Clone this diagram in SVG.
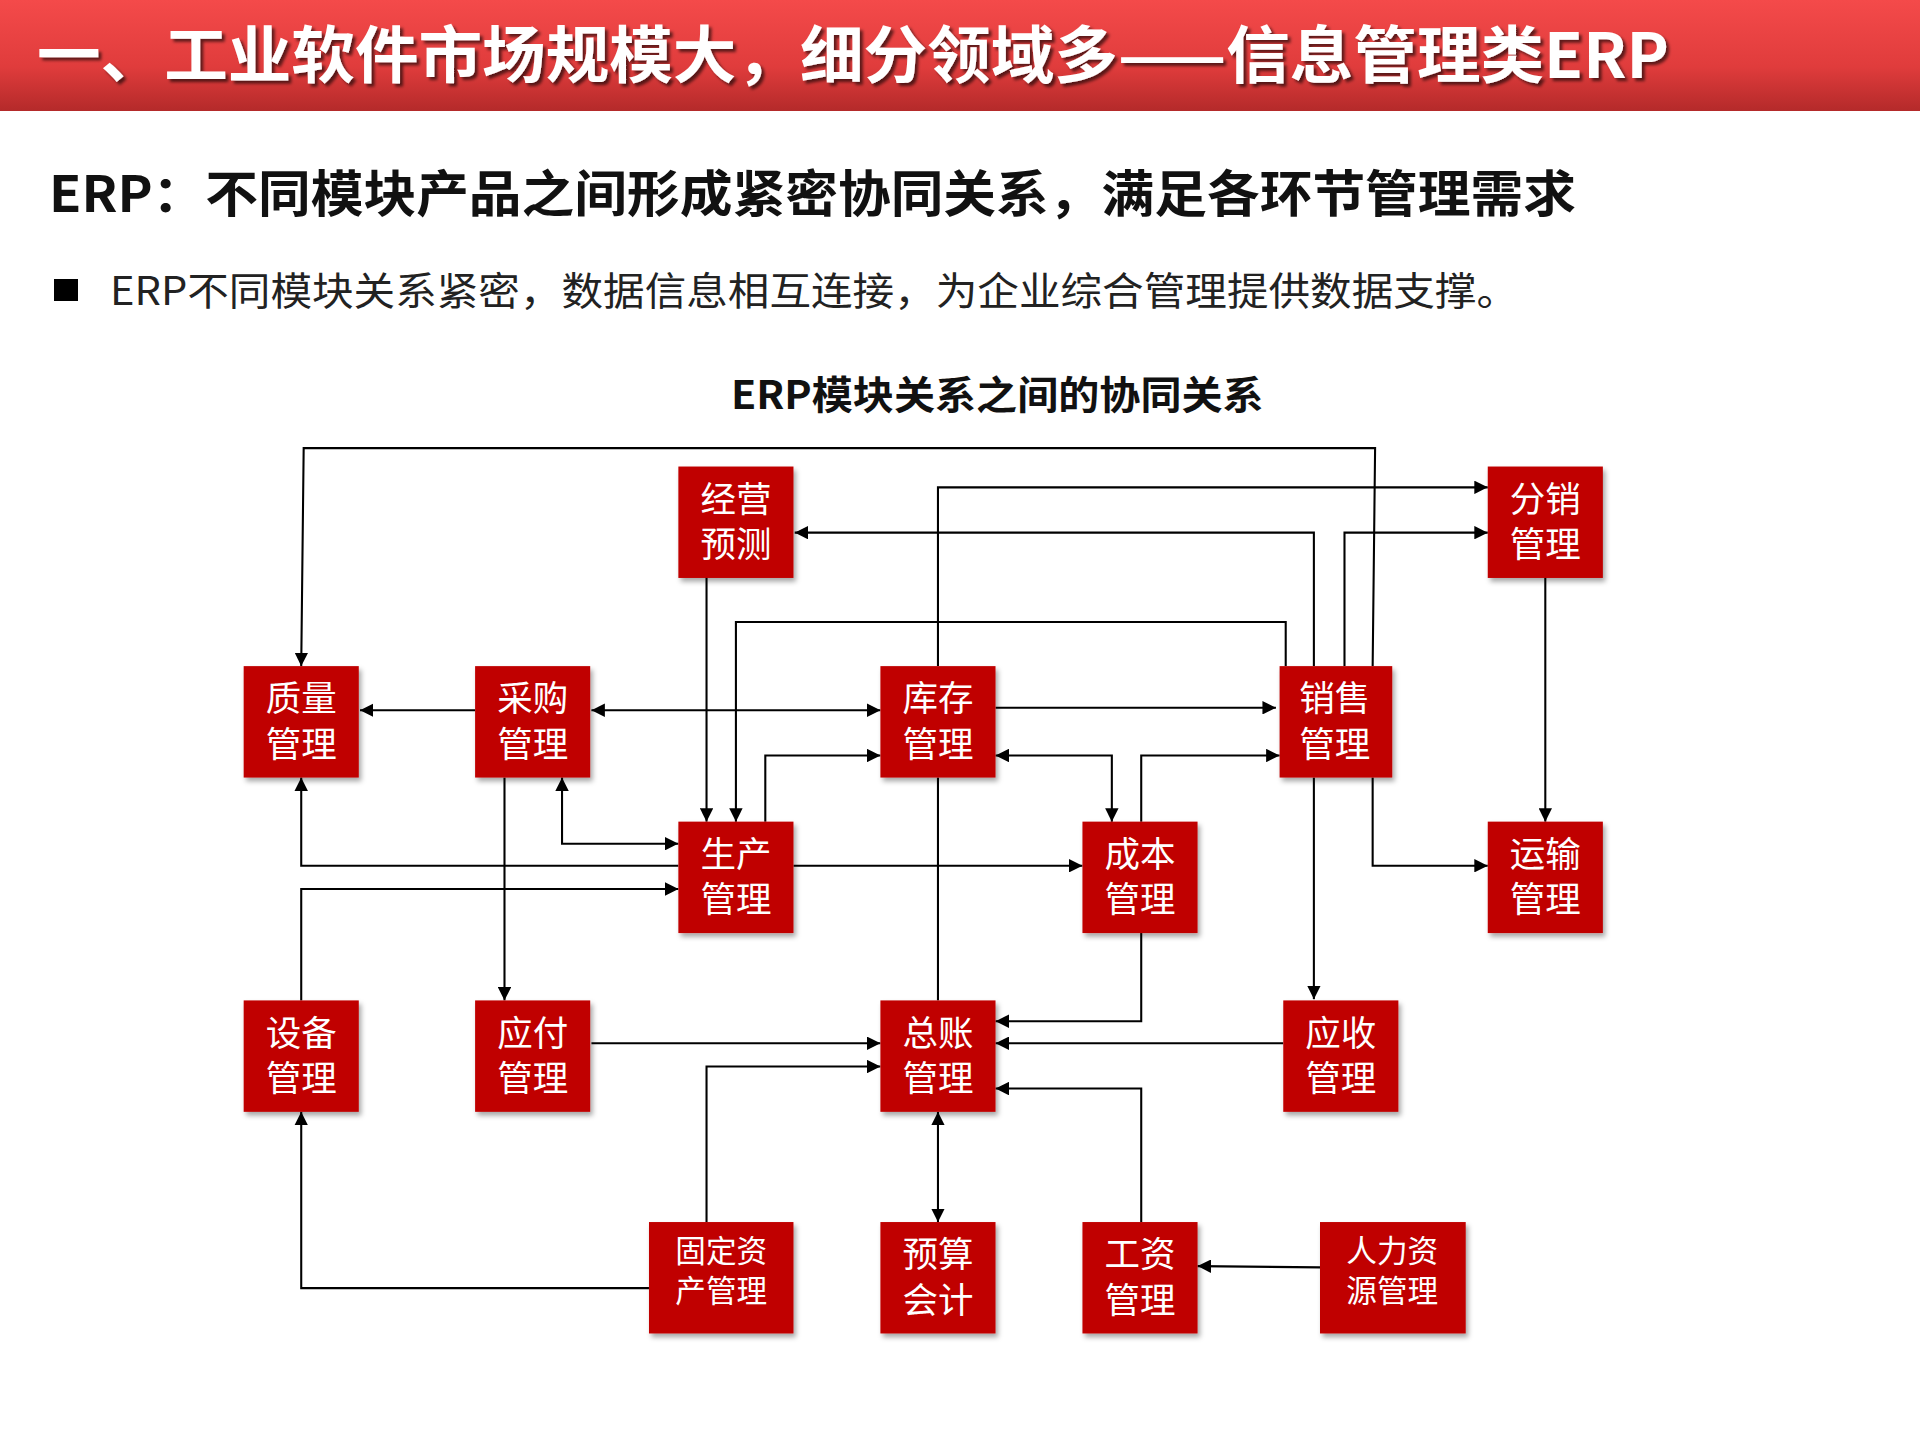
<svg xmlns="http://www.w3.org/2000/svg" width="1920" height="1440" viewBox="0 0 1920 1440">
<defs>
<linearGradient id="hg" x1="0" y1="0" x2="0" y2="1"><stop offset="0" stop-color="#f44a4a"/><stop offset="0.6" stop-color="#e03c3c"/><stop offset="1" stop-color="#b42a2a"/></linearGradient>
<filter id="sh" x="-20%" y="-20%" width="140%" height="140%"><feDropShadow dx="2" dy="3" stdDeviation="2" flood-color="#000" flood-opacity="0.35"/></filter>
<filter id="ts" x="-5%" y="-20%" width="110%" height="150%"><feDropShadow dx="3" dy="3" stdDeviation="1.5" flood-color="#000" flood-opacity="0.6"/></filter>
<marker id="a" viewBox="0 0 10 10" refX="10" refY="5" markerWidth="11" markerHeight="11" orient="auto-start-reverse" markerUnits="userSpaceOnUse"><path d="M0,0 L10,5 L0,10 z" fill="#000"/></marker>
</defs>
<style>
.n rect{fill:#c00000;filter:url(#sh)}
.n text{fill:#fff;font-family:"Noto Sans CJK SC","Noto Sans",sans-serif;font-size:29px;text-anchor:middle}
.n text.s{font-size:25px}
#connectors path{fill:none;stroke:#000;stroke-width:1.7}
</style>
<rect x="0" y="0" width="1920" height="111" fill="url(#hg)"/>
<text x="37" y="78" font-family="Noto Sans CJK SC,sans-serif" font-weight="bold" font-size="62" fill="#fff" filter="url(#ts)" textLength="1632" lengthAdjust="spacingAndGlyphs">一、工业软件市场规模大，细分领域多——信息管理类ERP</text>
<text x="49" y="212" font-family="Noto Sans CJK SC,sans-serif" font-weight="bold" font-size="50" fill="#111" textLength="1527" lengthAdjust="spacingAndGlyphs">ERP：不同模块产品之间形成紧密协同关系，满足各环节管理需求</text>
<rect x="54" y="279" width="24" height="22" fill="#000"/>
<text x="110" y="305" font-family="Noto Sans CJK SC,sans-serif" font-size="39" fill="#222" textLength="1408" lengthAdjust="spacingAndGlyphs">ERP不同模块关系紧密，数据信息相互连接，为企业综合管理提供数据支撑。</text>
<g transform="scale(1.22449)">
<text x="597" y="334" font-family="Noto Sans CJK SC,sans-serif" font-weight="bold" font-size="32" fill="#111" textLength="435" lengthAdjust="spacingAndGlyphs">ERP模块关系之间的协同关系</text>
<g id="connectors">
<path d="M1121,544 L1123,366 L248,366 L246,544" marker-end="url(#a)"/>
<path d="M766,544 V398 H1215" marker-end="url(#a)"/>
<path d="M766,635 V817"/>
<path d="M1073,544 V435 H649" marker-end="url(#a)"/>
<path d="M1073,635 V816" marker-end="url(#a)"/>
<path d="M1098,544 V435 H1215" marker-end="url(#a)"/>
<path d="M1050,544 V508 H601 V671" marker-end="url(#a)"/>
<path d="M577,471 V671" marker-end="url(#a)"/>
<path d="M388,580 H294" marker-end="url(#a)"/>
<path d="M483,580 H719" marker-start="url(#a)" marker-end="url(#a)"/>
<path d="M813,578 H1042" marker-end="url(#a)"/>
<path d="M625,671 V617 H719" marker-end="url(#a)"/>
<path d="M813,617 H908 V671" marker-start="url(#a)" marker-end="url(#a)"/>
<path d="M932,671 V617 H1045" marker-end="url(#a)"/>
<path d="M1262,471 V671" marker-end="url(#a)"/>
<path d="M1121,635 V707 H1215" marker-end="url(#a)"/>
<path d="M459,635 V689 H554" marker-start="url(#a)" marker-end="url(#a)"/>
<path d="M554,707 H246 V635" marker-end="url(#a)"/>
<path d="M246,817 V726 H554" marker-end="url(#a)"/>
<path d="M648,707 H884" marker-end="url(#a)"/>
<path d="M412,635 V817" marker-end="url(#a)"/>
<path d="M483,852 H719" marker-end="url(#a)"/>
<path d="M932,762 V834 H813" marker-end="url(#a)"/>
<path d="M1048,852 H813" marker-end="url(#a)"/>
<path d="M577,998 V871 H719" marker-end="url(#a)"/>
<path d="M932,998 V889 H813" marker-end="url(#a)"/>
<path d="M766,908 V998" marker-start="url(#a)" marker-end="url(#a)"/>
<path d="M1078,1035 L978,1034" marker-end="url(#a)"/>
<path d="M530,1052 H246 V908" marker-end="url(#a)"/>
</g>
<g id="n-jyyc" class="n"><rect x="554" y="381" width="94" height="91"/><text x="601" y="418">经营</text><text x="601" y="455">预测</text></g>
<g id="n-fx" class="n"><rect x="1215" y="381" width="94" height="91"/><text x="1262" y="418">分销</text><text x="1262" y="455">管理</text></g>
<g id="n-zl" class="n"><rect x="199" y="544" width="94" height="91"/><text x="246" y="581">质量</text><text x="246" y="618">管理</text></g>
<g id="n-cg" class="n"><rect x="388" y="544" width="94" height="91"/><text x="435" y="581">采购</text><text x="435" y="618">管理</text></g>
<g id="n-kc" class="n"><rect x="719" y="544" width="94" height="91"/><text x="766" y="581">库存</text><text x="766" y="618">管理</text></g>
<g id="n-xs" class="n"><rect x="1045" y="544" width="92" height="91"/><text x="1090" y="581">销售</text><text x="1090" y="618">管理</text></g>
<g id="n-sc" class="n"><rect x="554" y="671" width="94" height="91"/><text x="601" y="708">生产</text><text x="601" y="745">管理</text></g>
<g id="n-cb" class="n"><rect x="884" y="671" width="94" height="91"/><text x="931" y="708">成本</text><text x="931" y="745">管理</text></g>
<g id="n-ys" class="n"><rect x="1215" y="671" width="94" height="91"/><text x="1262" y="708">运输</text><text x="1262" y="745">管理</text></g>
<g id="n-sb" class="n"><rect x="199" y="817" width="94" height="91"/><text x="246" y="854">设备</text><text x="246" y="891">管理</text></g>
<g id="n-yf" class="n"><rect x="388" y="817" width="94" height="91"/><text x="435" y="854">应付</text><text x="435" y="891">管理</text></g>
<g id="n-zz" class="n"><rect x="719" y="817" width="94" height="91"/><text x="766" y="854">总账</text><text x="766" y="891">管理</text></g>
<g id="n-ysh" class="n"><rect x="1048" y="817" width="94" height="91"/><text x="1095" y="854">应收</text><text x="1095" y="891">管理</text></g>
<g id="n-gdzc" class="n"><rect x="530" y="998" width="118" height="91"/><text class="s" x="589" y="1031">固定资</text><text class="s" x="589" y="1063">产管理</text></g>
<g id="n-yskj" class="n"><rect x="719" y="998" width="94" height="91"/><text x="766" y="1035">预算</text><text x="766" y="1072">会计</text></g>
<g id="n-gz" class="n"><rect x="884" y="998" width="94" height="91"/><text x="931" y="1035">工资</text><text x="931" y="1072">管理</text></g>
<g id="n-rlzy" class="n"><rect x="1078" y="998" width="119" height="91"/><text class="s" x="1137" y="1031">人力资</text><text class="s" x="1137" y="1063">源管理</text></g>
</g>
</svg>
